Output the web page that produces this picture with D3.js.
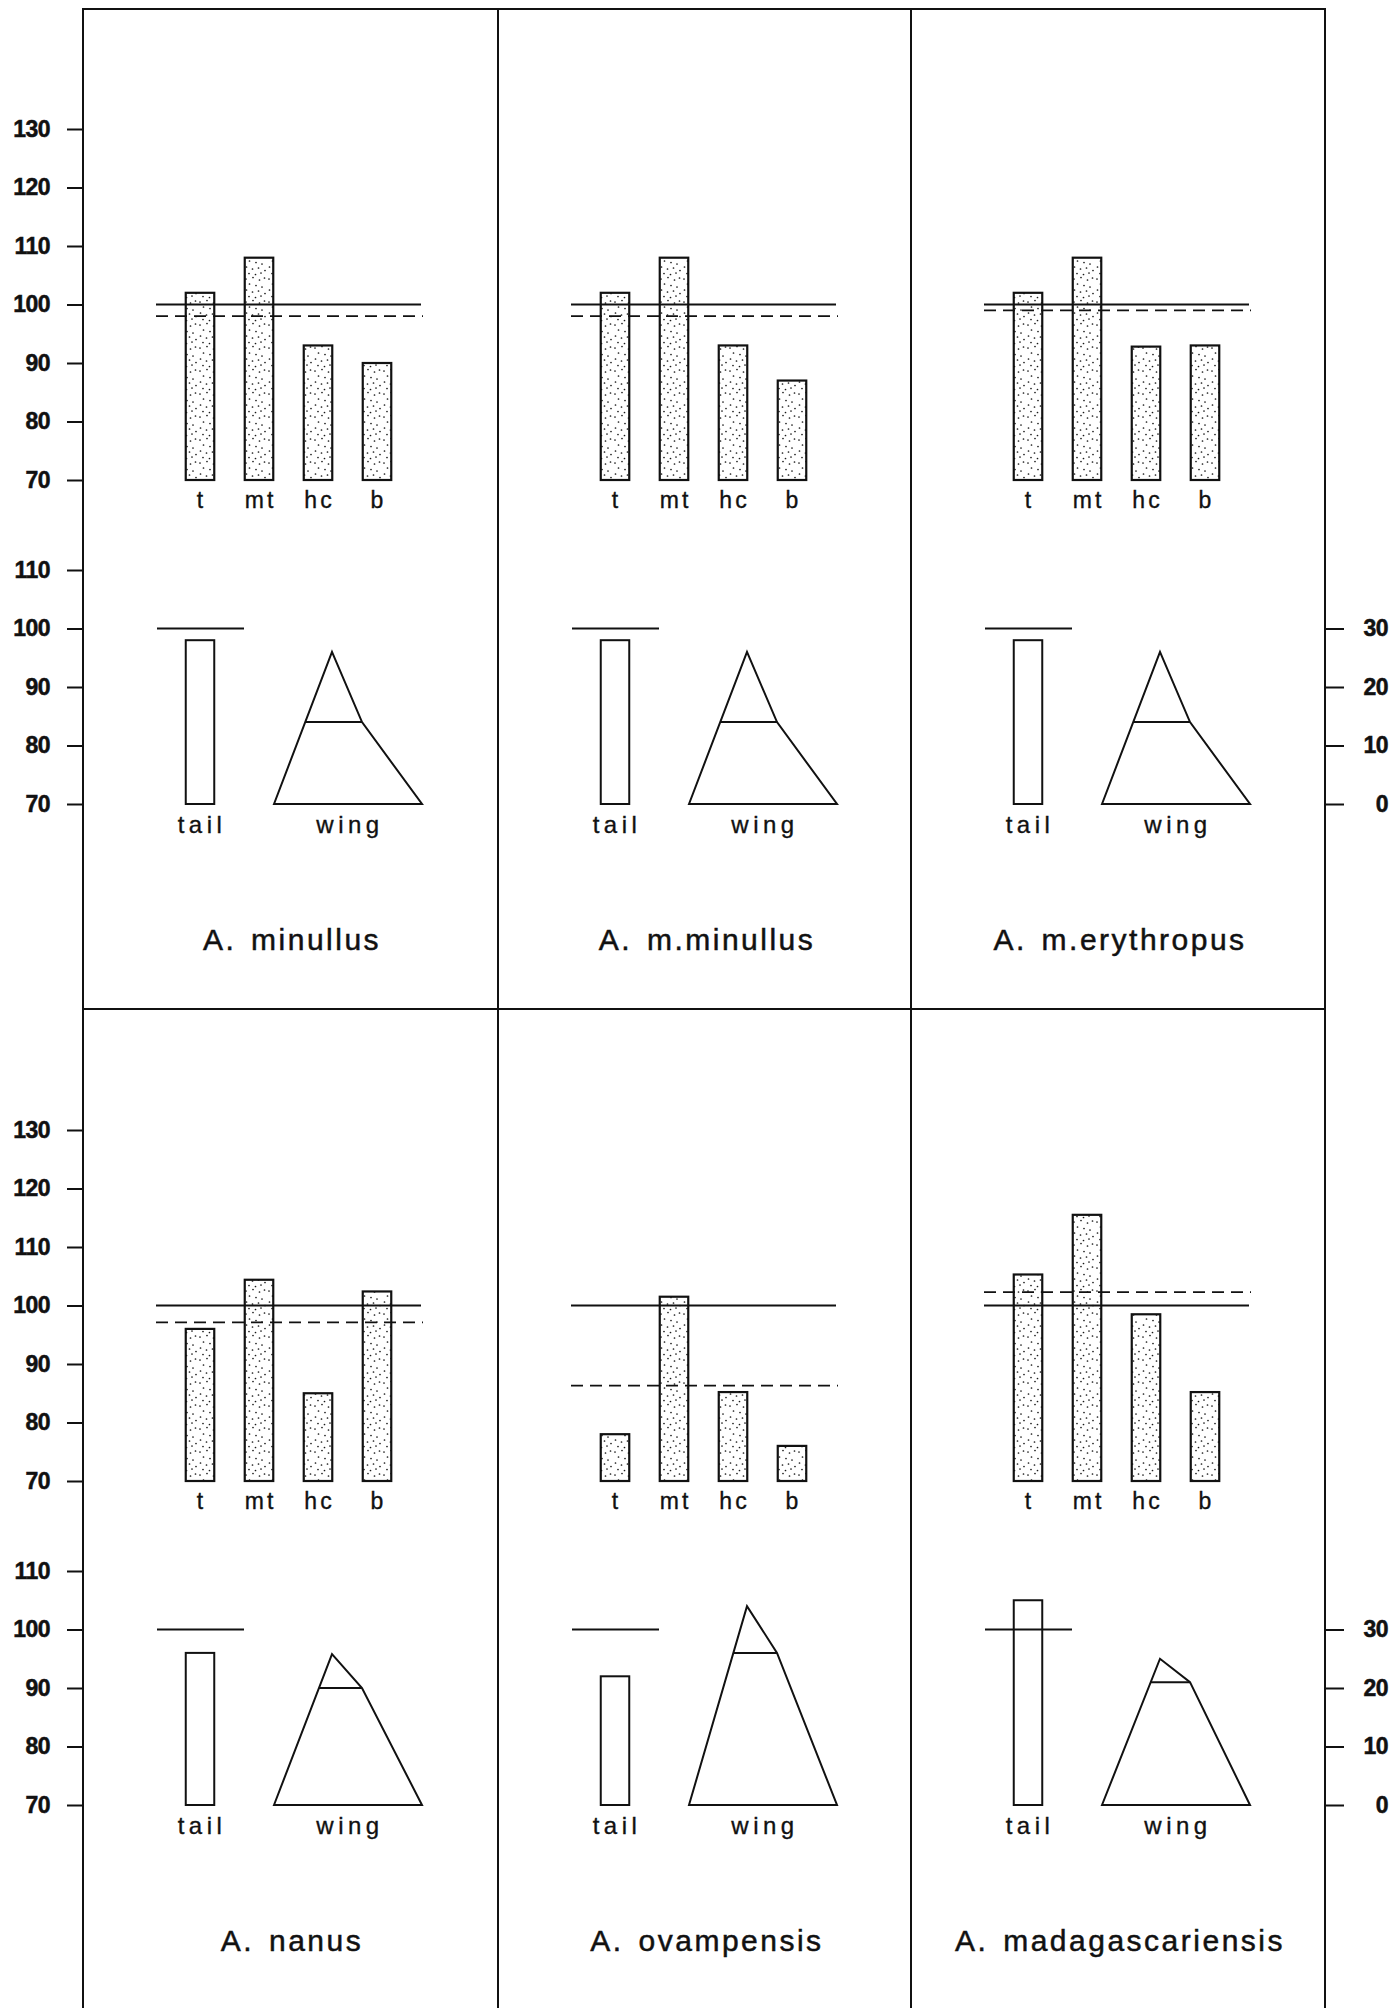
<!DOCTYPE html>
<html>
<head>
<meta charset="utf-8">
<script src="https://cdn.jsdelivr.net/npm/d3@7"></script>
<style>
  html, body { margin: 0; padding: 0; background: #fff; }
  svg { display: block; }
</style>
</head>
<body>
<div id="chart"></div>
<script>
// ---------------- data ----------------
const species = ["A. minullus", "A. m.minullus", "A. m.erythropus",
                 "A. nanus", "A. ovampensis", "A. madagascariensis"];
const measures = ["t", "mt", "hc", "b"];
const tValues  = [102, 102, 102, 96, 78, 105.3];
const mtValues = [108, 108, 108, 104.4, 101.5, 115.5];
const hcValues = [93, 93, 92.8, 85, 85.2, 98.5];
const bValues  = [90, 87, 93, 102.4, 76, 85.2];
const referenceLevel = 100;                       // solid line
const dashedLevel = [98, 98, 99, 97.1, 86.3, 102.3]; // dashed line
const tailValues = [98, 98, 98, 96, 92, 105];
const wingTip  = [26, 26, 26, 25.8, 34, 25];     // right-hand 0-30 scale
const wingKink = [14, 14, 14, 20, 26, 21];
const upperTicks = [70, 80, 90, 100, 110, 120, 130];
const lowerTicks = [70, 80, 90, 100, 110];
const rightTicks = [0, 10, 20, 30];
const tailLabel = "tail", wingLabel = "wing";

// ---------------- layout ----------------
const W = 1398, H = 2008;
const colX = [83, 498, 911, 1325];
const rowTop = [9, 1009];
const rowShift = [0, 1001];
const ink = "#111";

const svg = d3.select("#chart").append("svg")
  .attr("width", W).attr("height", H)
  .attr("viewBox", `0 0 ${W} ${H}`);

// stipple pattern (sparse irregular dots)
const defs = svg.append("defs");
const pat = defs.append("pattern").attr("id", "stipple")
  .attr("patternUnits", "userSpaceOnUse").attr("width", 23).attr("height", 23);
pat.append("rect").attr("width", 23).attr("height", 23).attr("fill", "#fff");
[[2,3],[9,1.5],[15.5,4],[20.5,2],[5.5,8],[12,9.5],[18,11],[2.5,14],[8.5,16],
 [14.5,15],[21,17.5],[5,20.5],[11.5,21.5],[17,20]]
  .forEach(([x,y]) => pat.append("circle").attr("cx", x).attr("cy", y)
     .attr("r", 0.85).attr("fill", "#1a1a1a"));

const font = "'Liberation Sans', Arial, Helvetica, sans-serif";

// scales (panel-relative x, absolute y per row)
const xBar = d3.scalePoint().domain(measures).range([117, 294]);
const barW = 28.5;
const yUpperBase = d3.scaleLinear().domain([70, 130]).range([480, 129]);
const yLowerBase = d3.scaleLinear().domain([70, 110]).range([804, 570]);
const yRightBase = d3.scaleLinear().domain([0, 30]).range([804, 628.5]);
const xWing = d3.scaleLinear().domain([0, 1]).range([191, 339]); // wing base span
const wingApexX = 249, wingKinkRX = 279;

// ---------------- frame ----------------
const frame = svg.append("g").attr("stroke", ink).attr("stroke-width", 2).attr("fill", "none");
colX.forEach(x => frame.append("line").attr("x1", x).attr("x2", x).attr("y1", rowTop[0]).attr("y2", H));
rowTop.forEach(y => frame.append("line").attr("x1", colX[0] - 1).attr("x2", colX[3] + 1).attr("y1", y).attr("y2", y));

// ---------------- axes ----------------
function styleAxis(g) {
  g.select(".domain").remove();
  g.selectAll(".tick line").attr("stroke", ink).attr("stroke-width", 2);
  g.selectAll(".tick text").attr("fill", ink)
    .attr("stroke", ink).attr("stroke-width", 0.5)
    .style("font-family", font).style("font-weight", "bold").style("font-size", "23px")
    .style("letter-spacing", "-0.5px");
}
rowShift.forEach(dy => {
  const yU = yUpperBase.copy().range(yUpperBase.range().map(v => v + dy));
  const yL = yLowerBase.copy().range(yLowerBase.range().map(v => v + dy));
  const yR = yRightBase.copy().range(yRightBase.range().map(v => v + dy));
  svg.append("g").attr("transform", `translate(${colX[0]},0)`)
    .call(d3.axisLeft(yU).tickValues(upperTicks).tickSize(16).tickPadding(17).tickFormat(d3.format("d")))
    .call(styleAxis);
  svg.append("g").attr("transform", `translate(${colX[0]},0)`)
    .call(d3.axisLeft(yL).tickValues(lowerTicks).tickSize(16).tickPadding(17).tickFormat(d3.format("d")))
    .call(styleAxis);
  const gr = svg.append("g").attr("transform", `translate(${colX[3]},0)`)
    .call(d3.axisRight(yR).tickValues(rightTicks).tickSize(19).tickPadding(0).tickFormat(d3.format("d")))
    .call(styleAxis);
  gr.selectAll(".tick text").attr("text-anchor", "end").attr("x", 63);
});

// ---------------- panels ----------------
const seriesByMeasure = { t: tValues, mt: mtValues, hc: hcValues, b: bValues };

species.forEach((name, i) => {
  const row = Math.floor(i / 3), col = i % 3;
  const dy = rowShift[row];
  const x0 = colX[col];
  const yU = yUpperBase.copy().range(yUpperBase.range().map(v => v + dy));
  const yL = yLowerBase.copy().range(yLowerBase.range().map(v => v + dy));
  const yR = yRightBase.copy().range(yRightBase.range().map(v => v + dy));
  const g = svg.append("g").attr("transform", `translate(${x0},0)`);

  // stippled bars
  const bars = measures.map(m => ({ m, v: seriesByMeasure[m][i] }));
  g.selectAll("rect.bar").data(bars).join("rect").attr("class", "bar")
    .attr("x", d => xBar(d.m) - barW / 2)
    .attr("width", barW)
    .attr("y", d => yU(d.v))
    .attr("height", d => yU(70) - yU(d.v))
    .attr("fill", "url(#stipple)")
    .attr("stroke", ink).attr("stroke-width", 2.2);

  // reference lines
  g.append("line").attr("x1", 73).attr("x2", 338)
    .attr("y1", yU(referenceLevel)).attr("y2", yU(referenceLevel))
    .attr("stroke", ink).attr("stroke-width", 1.8);
  g.append("line").attr("x1", 73).attr("x2", 340)
    .attr("y1", yU(dashedLevel[i])).attr("y2", yU(dashedLevel[i]))
    .attr("stroke", ink).attr("stroke-width", 1.8).attr("stroke-dasharray", "12,7");

  // bar labels
  g.selectAll("text.blab").data(measures).join("text").attr("class", "blab")
    .attr("x", d => xBar(d) + 1.5).attr("y", yU(70) + 28)
    .attr("text-anchor", "middle")
    .attr("stroke", ink).attr("stroke-width", 0.35)
    .style("font-family", font).style("font-size", "23px").style("letter-spacing", "3px")
    .attr("fill", ink).text(d => d);

  // tail
  const tailX = xBar("t");
  g.append("line").attr("x1", 74).attr("x2", 161)
    .attr("y1", yL(referenceLevel)).attr("y2", yL(referenceLevel))
    .attr("stroke", ink).attr("stroke-width", 1.8);
  g.append("rect")
    .attr("x", tailX - barW / 2).attr("width", barW)
    .attr("y", yL(tailValues[i])).attr("height", yL(70) - yL(tailValues[i]))
    .attr("fill", "none").attr("stroke", ink).attr("stroke-width", 2);

  // wing glyph
  const tip = wingTip[i], kink = wingKink[i];
  const bl = xWing(0), br = xWing(1);
  const kinkLX = bl + (wingApexX - bl) * (kink / tip);
  const pts = [[bl, yR(0)], [wingApexX, yR(tip)], [wingKinkRX, yR(kink)], [br, yR(0)]];
  g.append("path").attr("d", d3.line()(pts) + "Z")
    .attr("fill", "none").attr("stroke", ink).attr("stroke-width", 2).attr("stroke-linejoin", "miter");
  g.append("line").attr("x1", kinkLX).attr("x2", wingKinkRX)
    .attr("y1", yR(kink)).attr("y2", yR(kink))
    .attr("stroke", ink).attr("stroke-width", 2);

  g.append("text").attr("x", tailX + 2).attr("y", yL(70) + 29)
    .attr("text-anchor", "middle")
    .attr("stroke", ink).attr("stroke-width", 0.35)
    .style("font-family", font).style("font-size", "24px").style("letter-spacing", "4.5px")
    .attr("fill", ink).text(tailLabel);
  g.append("text").attr("x", (bl + br) / 2 + 2).attr("y", yL(70) + 29)
    .attr("text-anchor", "middle")
    .attr("stroke", ink).attr("stroke-width", 0.35)
    .style("font-family", font).style("font-size", "24px").style("letter-spacing", "4.5px")
    .attr("fill", ink).text(wingLabel);

  // species title
  g.append("text").attr("x", 209).attr("y", 950 + dy)
    .attr("text-anchor", "middle")
    .attr("stroke", ink).attr("stroke-width", 0.5)
    .style("font-family", font).style("font-size", "30px").style("letter-spacing", "2.5px")
    .style("word-spacing", "4px")
    .attr("fill", ink).text(name);
});
</script>
</body>
</html>
